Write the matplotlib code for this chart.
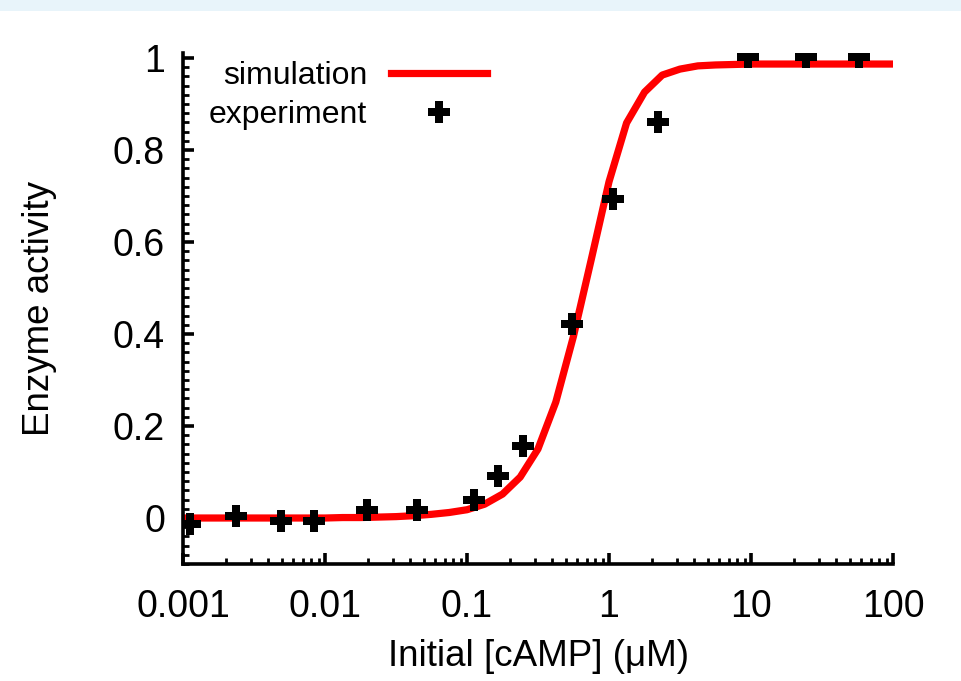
import matplotlib
matplotlib.use("Agg")
import matplotlib.pyplot as plt
from matplotlib.patches import Rectangle
from matplotlib.ticker import LogLocator, FixedLocator, NullFormatter

plt.rcParams['font.family'] = ['Liberation Sans', 'DejaVu Sans']

# simulation curve (sampled)
sim_x = [0.001, 0.01, 0.0133, 0.0178, 0.0237, 0.0316, 0.0422, 0.0562, 0.075,
         0.1, 0.133, 0.178, 0.237, 0.316, 0.422, 0.562, 0.75, 1.0, 1.33,
         1.78, 2.37, 3.16, 4.22, 5.62, 7.5, 10.0, 100.0]
sim_y = [0.000, 0.000, 0.001, 0.001, 0.002, 0.003, 0.005, 0.008, 0.012,
         0.018, 0.030, 0.052, 0.089, 0.150, 0.252, 0.395, 0.562, 0.731, 0.859,
         0.926, 0.963, 0.976, 0.983, 0.985, 0.986, 0.987, 0.987]

# experiment
exp_x = [0.00112, 0.00236, 0.0049, 0.00838, 0.0198, 0.0445, 0.112, 0.165,
         0.248, 0.548, 1.07, 2.21, 9.5, 24.4, 57.7]
exp_y = [-0.013, 0.004, -0.007, -0.007, 0.017, 0.017, 0.039, 0.091,
         0.156, 0.421, 0.694, 0.861, 1.002, 1.002, 1.002]

x_ticks = [0.001, 0.01, 0.1, 1, 10, 100]
x_tick_labels = ['0.001', '0.01', '0.1', '1', '10', '100']
y_ticks = [0, 0.2, 0.4, 0.6, 0.8, 1.0]
y_tick_labels = ['0', '0.2', '0.4', '0.6', '0.8', '1']
y_minor = [-0.1, -0.08, -0.06, -0.04, -0.02, 0.02, 0.04, 0.06, 0.08, 0.1,
           0.12, 0.14, 0.16, 0.18, 0.22, 0.24, 0.26, 0.28, 0.3, 0.32, 0.34,
           0.36, 0.38, 0.42, 0.44, 0.46, 0.48, 0.5, 0.52, 0.54, 0.56, 0.58,
           0.62, 0.64, 0.66, 0.68, 0.7, 0.72, 0.74, 0.76, 0.78, 0.82, 0.84,
           0.86, 0.88, 0.9, 0.92, 0.94, 0.96, 0.98]

fig = plt.figure(figsize=(9.61, 6.81), dpi=100)
fig.patches.append(Rectangle((0, 1 - 11 / 681), 1, 11 / 681, transform=fig.transFigure,
                             facecolor='#e8f4fa', edgecolor='none', zorder=0))
ax = fig.add_axes([183 / 961, 1 - 564 / 681, 710 / 961, 511 / 681])

ax.plot(sim_x, sim_y, color='#ff0000', lw=5.2, label='simulation', zorder=2)
ax.plot(exp_x, exp_y, linestyle='none', marker='P', markersize=15.5, color='black',
        markeredgewidth=0, label='experiment', zorder=3)

ax.set_xscale('log')
ax.set_xlim(0.001, 100)
ax.set_ylim(-0.1, 1.011)

ax.xaxis.set_major_locator(FixedLocator(x_ticks))
ax.set_xticklabels(x_tick_labels)
ax.xaxis.set_minor_locator(LogLocator(base=10, subs=[2, 3, 4, 5, 6, 7, 8, 9]))
ax.xaxis.set_minor_formatter(NullFormatter())
ax.set_yticks(y_ticks)
ax.set_yticklabels(y_tick_labels)
ax.yaxis.set_minor_locator(FixedLocator(y_minor))

for s in ['top', 'right']:
    ax.spines[s].set_visible(False)
for s in ['left', 'bottom']:
    ax.spines[s].set_linewidth(2.6)

ax.tick_params(which='major', direction='in', length=8, width=2.6, labelsize=27, colors='black')
ax.tick_params(which='minor', direction='in', length=4, width=2.0)
ax.tick_params(axis='x', which='major', pad=18)
ax.tick_params(axis='y', which='major', pad=13)

ax.set_xlabel('Initial [cAMP] (μM)', fontsize=26.5, labelpad=10)
ax.set_ylabel('Enzyme activity', fontsize=26.5, labelpad=40)

leg = ax.legend(loc='upper right', bbox_to_anchor=((487 - 183) / 710, 1.0 - 8 / 511),
                frameon=False, markerfirst=False, fontsize=23, handlelength=3.0,
                handletextpad=0.75, labelspacing=0.28, borderpad=0.0, borderaxespad=0.0)

fig.savefig('out.png', dpi=100)
